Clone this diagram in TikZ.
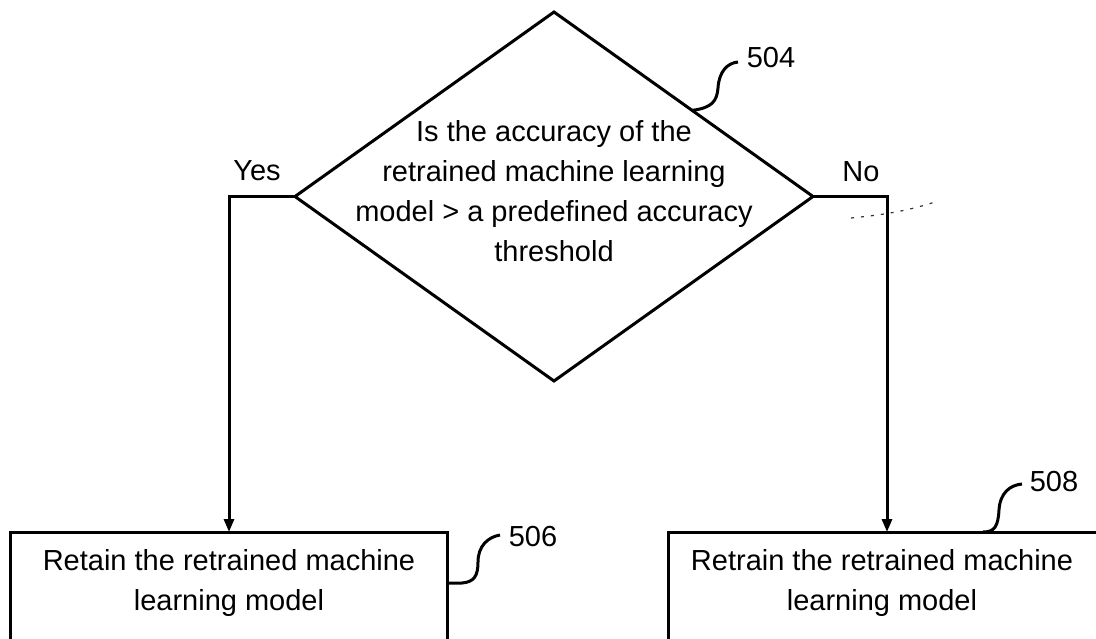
\documentclass[tikz,border=0pt]{standalone}
\usepackage{fontspec}
\setmainfont{Liberation Sans}
\usetikzlibrary{arrows.meta,shapes.geometric,calc}
\begin{document}
\begin{tikzpicture}[x=1pt,y=-1pt,
  every node/.style={font=\fontsize{29}{40}\selectfont},
  outline/.style={draw=black,line width=3pt},
  diam/.style={diamond,outline,inner sep=0pt,outer sep=0pt,minimum width=518pt,minimum height=369pt},
  procbox/.style={rectangle,outline,inner sep=0pt,outer sep=0pt},
  txt/.style={align=center,inner sep=0pt},
  flow/.style={line width=3pt,-{Triangle[length=13pt,width=10pt]}},
  leader/.style={line width=3pt},
  lbl/.style={inner sep=0pt}]
\useasboundingbox (0,0) rectangle (1096,638);
\clip (0,0) rectangle (1096,638);
\fill[white] (0,0) rectangle (1096,638);

% decision
\node[diam] (d) at (554,196.5) {};
\node[txt] (dt) at (554,191) {Is the accuracy of the\\retrained machine learning\\model > a predefined accuracy\\threshold};

% boxes
\node[procbox,minimum width=437pt,minimum height=160pt,anchor=north west] (b1) at (10,532) {};
\node[txt] (t1) at (229,583) {Retain the retrained machine\\learning model};
\node[procbox,minimum width=440pt,minimum height=160pt,anchor=north west] (b2) at (668,532) {};
\node[txt] (t2) at (882,583) {Retrain the retrained machine\\learning model};

% branch labels
\node[lbl] (yes) at (257,171) {Yes};
\node[lbl] (no) at (861,172) {No};

% connectors
\draw[flow] (d.west) -| (b1.north -| 229,0);
\draw[flow] (d.east) -| (b2.north -| 887,0);

% reference numerals
\node[lbl] (n504) at (771,58) {504};
\node[lbl] (n506) at (533,537) {506};
\node[lbl] (n508) at (1054,482) {508};

\coordinate (s504) at ($(d.north)!0.533!(d.east)$);
\coordinate (e504) at (738,62);
\draw[leader] (s504) .. controls (712,108) and (717,101) .. (718,88) .. controls (719,72) and (727,63) .. (e504);

\coordinate (s506) at ($(b1.north east)+(0,51)$);
\coordinate (e506) at (500,535);
\draw[leader] (s506) -- (462,583) .. controls (474,582) and (478,576) .. (478,562) .. controls (478,546) and (488,537) .. (e506);

\coordinate (s508) at ($(b2.north west)+(315,0)$);
\coordinate (e508) at (1022,484);
\draw[leader] (s508) .. controls (995,532) and (998,526) .. (999,510) .. controls (1000,493) and (1010,485) .. (e508);

% faint scan artifact
\coordinate (a1) at (851,218);
\coordinate (a2) at (938,201);
\draw[line width=1.2pt,dash pattern=on 3pt off 7pt,black!80] (a1) .. controls (880,215) and (905,212) .. (a2);
\end{tikzpicture}
\end{document}
